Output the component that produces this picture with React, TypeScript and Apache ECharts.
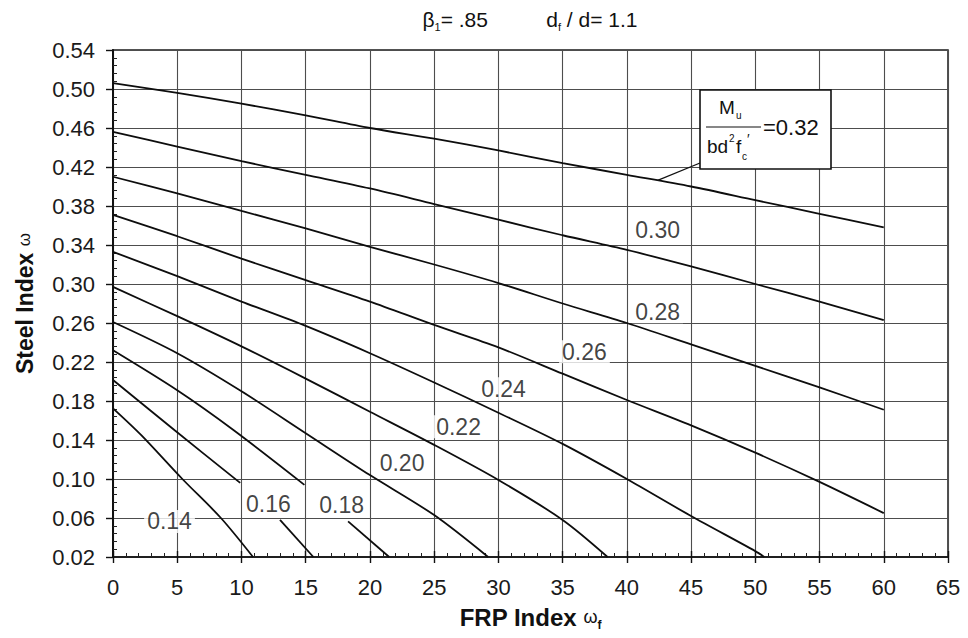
import React, { useEffect, useRef } from 'react';
import * as echarts from 'echarts';

const FONT = '"Liberation Sans", Arial, Helvetica, sans-serif';

// Axis ranges (FRP index along x, steel index along y)
const xRange = [0, 65];
const xStep = 5;
const yRange = [0.02, 0.54];
const yStep = 0.04;

// Contour lines of Mu / (b d^2 f'c): [FRP index, steel index]; null = break left for the inline label
const mu032 = [[0, 0.506], [5, 0.496], [10, 0.485], [15, 0.473], [20, 0.46], [25, 0.449], [30, 0.437], [35, 0.424], [40, 0.412], [45, 0.4], [50, 0.386], [55, 0.372], [60, 0.358]];
const mu030 = [[0, 0.456], [5, 0.441], [10, 0.426], [15, 0.412], [20, 0.398], [25, 0.382], [30, 0.366], [35, 0.35], [40, 0.335], [45, 0.318], [50, 0.3], [55, 0.282], [60, 0.263]];
const mu028 = [[0, 0.41], [5, 0.393], [10, 0.375], [15, 0.357], [20, 0.338], [25, 0.32], [30, 0.301], [35, 0.28], [40, 0.26], [45, 0.238], [50, 0.216], [55, 0.194], [60, 0.171]];
const mu026 = [[0, 0.371], [5, 0.349], [10, 0.326], [15, 0.304], [20, 0.282], [25, 0.258], [30, 0.235], [35, 0.208], [40, 0.181], [45, 0.155], [50, 0.127], [55, 0.097], [60, 0.065]];
const mu024 = [[0, 0.333], [5, 0.308], [10, 0.282], [15, 0.257], [20, 0.229], [25, 0.199], [30, 0.168], [35, 0.136], [40, 0.1], [45, 0.062], [50, 0.026], [50.7, 0.02]];
const mu022 = [[0, 0.297], [5, 0.267], [10, 0.236], [15, 0.203], [20, 0.169], [25, 0.135], [30, 0.099], [35, 0.058], [38.5, 0.02]];
const mu020 = [[0, 0.261], [5, 0.229], [10, 0.19], [15, 0.147], [20, 0.104], [25, 0.063], [29.2, 0.02]];
const mu018 = [[0, 0.232], [5, 0.191], [9.4, 0.15], [14.9, 0.094], null, [18.3, 0.0565], [21.5, 0.02]];
const mu016 = [[0, 0.2015], [4.8, 0.15], [9.9, 0.096], null, [13, 0.058], [15.6, 0.02]];
const mu014 = [[0, 0.1725], [2.2, 0.145], [5.4, 0.1], [8.4, 0.06], [10.9, 0.02]];

const curves = [mu032, mu030, mu028, mu026, mu024, mu022, mu020, mu018, mu016, mu014];

// Inline contour labels: [x, y, text]
const labelTexts = ['0.30', '0.28', '0.26', '0.24', '0.22', '0.20', '0.18', '0.16', '0.14'];
const labelX = [42.4, 42.4, 36.7, 30.4, 26.9, 22.5, 17.8, 12.1, 4.4];
const labelY = [0.3555, 0.2715, 0.2306, 0.1925, 0.1535, 0.1165, 0.0735, 0.0745, 0.0565];

// Boxed label for the top contour and where its leader meets the line
const boxValue = '0.32';
const leaderX = 42.4;

function interp(points: (number[] | null)[], x: number) {
  const pts = points.filter((p) => p !== null) as number[][];
  for (let i = 1; i < pts.length; i++) {
    if (x <= pts[i][0]) {
      const [x0, y0] = pts[i - 1];
      const [x1, y1] = pts[i];
      return y0 + ((y1 - y0) * (x - x0)) / (x1 - x0);
    }
  }
  return pts[pts.length - 1][1];
}

const tickLabel = { fontFamily: FONT, fontSize: 22, color: '#1a1a1a' };
const gridLine = { color: '#4d4d4d', width: 1.1 };
const dark = { color: '#111', width: 1.4 };

export default function App() {
  const ref = useRef<HTMLDivElement>(null);

  useEffect(() => {
    const el = ref.current;
    if (!el) return;
    const chart = echarts.init(el, null, { renderer: 'svg' });

    const lineSeries: any[] = [];
    curves.forEach((pts) => {
      let seg: number[][] = [];
      const flush = () => {
        if (seg.length > 1) {
          lineSeries.push({
            type: 'line',
            data: seg,
            showSymbol: false,
            smooth: 0.3,
            lineStyle: { color: '#0d0d0d', width: 1.8 },
            z: 3,
            silent: true,
          });
        }
        seg = [];
      };
      pts.forEach((p) => {
        if (p === null) flush();
        else seg.push(p);
      });
      flush();
    });

    const labelSeries = {
      type: 'scatter',
      symbolSize: 0,
      z: 6,
      data: labelTexts.map((t, i) => [labelX[i], labelY[i], t]),
      label: {
        show: true,
        position: 'inside',
        formatter: (p: any) => p.data[2],
        fontFamily: FONT,
        fontSize: 23,
        color: '#111',
        backgroundColor: '#fff',
        padding: [0, 3],
      },
    };

    chart.setOption({
      animation: false,
      grid: {
        left: 113,
        right: 20,
        top: 50,
        bottom: 81,
        show: true,
        borderColor: '#1a1a1a',
        borderWidth: 1.5,
      },
      xAxis: [
        {
          type: 'value',
          min: xRange[0],
          max: xRange[1],
          interval: xStep,
          position: 'bottom',
          axisLine: { show: true, onZero: false, lineStyle: { color: '#111', width: 1.6 } },
          axisTick: { show: true, length: 6, lineStyle: dark },
          axisLabel: { ...tickLabel, margin: 19 },
          splitLine: { show: true, lineStyle: gridLine },
          name: '{b|FRP Index }{w|ω}{s|f}',
          nameLocation: 'middle',
          nameGap: 46,
          nameTextStyle: {
            fontFamily: FONT,
            rich: {
              b: { fontFamily: FONT, fontSize: 24, fontWeight: 'bold', color: '#111', lineHeight: 28 },
              w: { fontFamily: FONT, fontSize: 18, color: '#111', lineHeight: 28 },
              s: { fontFamily: FONT, fontSize: 12, fontWeight: 'bold', color: '#111', lineHeight: 13, verticalAlign: 'bottom' },
            },
          },
        },
        {
          type: 'value',
          min: xRange[0],
          max: xRange[1],
          interval: xStep,
          position: 'bottom',
          axisLine: { show: false },
          axisTick: { show: true, inside: true, length: 6, lineStyle: dark },
          minorTick: { show: true, splitNumber: 5, length: 4, lineStyle: { color: '#222', width: 1 } },
          axisLabel: { show: false },
          splitLine: { show: false },
        },
      ],
      yAxis: [
        {
          type: 'value',
          min: yRange[0],
          max: yRange[1],
          interval: yStep,
          position: 'left',
          axisLine: { show: true, onZero: false, lineStyle: { color: '#111', width: 2 } },
          axisTick: { show: true, length: 7, lineStyle: dark },
          axisLabel: { ...tickLabel, margin: 18, formatter: (v: number) => v.toFixed(2) },
          splitLine: { show: true, lineStyle: gridLine },
          name: '{b|Steel Index }{w|ω}',
          nameLocation: 'middle',
          nameGap: 75,
          nameTextStyle: {
            fontFamily: FONT,
            rich: {
              b: { fontFamily: FONT, fontSize: 23, fontWeight: 'bold', color: '#111', lineHeight: 27 },
              w: { fontFamily: FONT, fontSize: 17, color: '#111', lineHeight: 27 },
            },
          },
        },
        {
          type: 'value',
          min: yRange[0],
          max: yRange[1],
          interval: yStep,
          position: 'left',
          axisLine: { show: false },
          axisTick: { show: false, inside: true },
          minorTick: { show: true, splitNumber: 5, length: 4, lineStyle: { color: '#222', width: 1 } },
          axisLabel: { show: false },
          splitLine: { show: false },
        },
      ],
      series: [...lineSeries, labelSeries],
    });

    // Boxed label "Mu / bd²f'c = 0.32" with its leader to the top contour
    const anchor = chart.convertToPixel({ xAxisIndex: 0, yAxisIndex: 0 }, [leaderX, interp(mu032, leaderX)]) as number[];
    const bx = 700;
    const by = 90;
    const bw = 131;
    const bh = 79;
    const txt = (x: number, y: number, text: string, size: number, extra: any = {}) => ({
      type: 'text',
      x,
      y,
      z: 20,
      style: { text, fontFamily: FONT, fontSize: size, fill: '#111', ...extra },
    });
    chart.setOption({
      graphic: [
        {
          type: 'line',
          z: 19,
          shape: { x1: bx, y1: by + bh - 6, x2: anchor[0], y2: anchor[1] },
          style: { stroke: '#111', lineWidth: 1.3 },
        },
        {
          type: 'rect',
          z: 19,
          shape: { x: bx, y: by, width: bw, height: bh },
          style: { fill: '#fff', stroke: '#111', lineWidth: 1.6 },
        },
        txt(719, 98, 'M', 19),
        txt(736, 110, 'u', 10),
        {
          type: 'line',
          z: 20,
          shape: { x1: bx + 6, y1: by + 37, x2: bx + 61, y2: by + 37 },
          style: { stroke: '#111', lineWidth: 1.2 },
        },
        txt(707, 137, 'bd', 19),
        txt(729, 133, '2', 10),
        txt(736, 137, 'f', 19),
        txt(742, 151, 'c', 10),
        txt(747, 132, '′', 14),
        txt(bx + 63, by + 37, '=' + boxValue, 22, { verticalAlign: 'middle' }),
        {
          type: 'text',
          z: 20,
          x: 530,
          y: 19,
          style: {
            text: '{a|β}{s|1}{a|= .85          d}{s|f}{a| / d= 1.1}',
            align: 'center',
            verticalAlign: 'middle',
            fontFamily: FONT,
            rich: {
              a: { fontFamily: FONT, fontSize: 21, fill: '#111', lineHeight: 26 },
              s: { fontFamily: FONT, fontSize: 11, fill: '#111', lineHeight: 12, verticalAlign: 'bottom' },
            },
          },
        },
      ],
    });

    return () => chart.dispose();
  }, []);

  return (
    <div
      ref={ref}
      style={{ position: 'fixed', left: 0, top: 0, width: 968, height: 638, background: '#fff' }}
    />
  );
}
